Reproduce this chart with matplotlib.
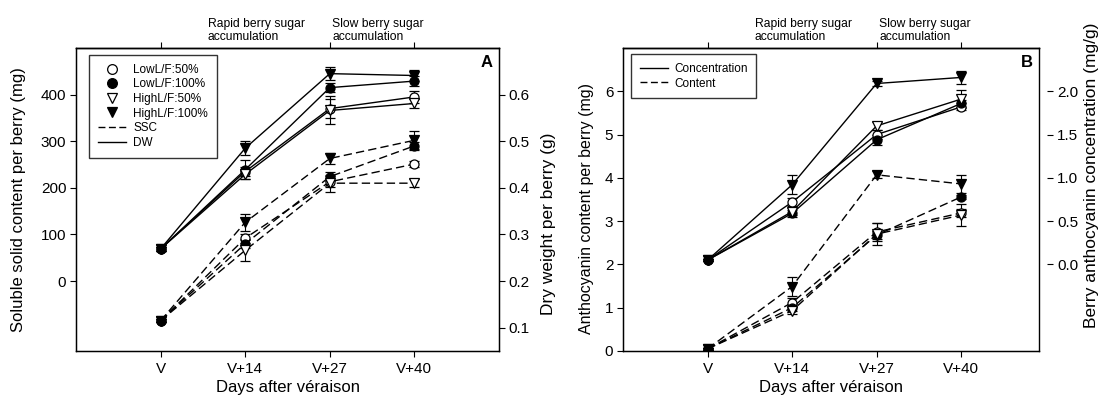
import matplotlib
matplotlib.use('Agg')
import matplotlib.pyplot as plt
from matplotlib.lines import Line2D

plt.rcParams['font.family'] = ['Liberation Sans', 'DejaVu Sans']

days = ['V', 'V+14', 'V+27', 'V+40']
treatments = ['LowL/F:50%', 'LowL/F:100%', 'HighL/F:50%', 'HighL/F:100%']

# ---- Panel A: soluble solid content (mg, dashed) and dry weight (g, solid)
ssc_low50 = [-85, 92, 213, 251]
ssc_low100 = [-85, 80, 224, 290]
ssc_high50 = [-85, 66, 210, 210]
ssc_high100 = [-85, 126, 263, 302]
ssc_err_low50 = [3, 10, 12, 6]
ssc_err_low100 = [3, 10, 10, 8]
ssc_err_high50 = [3, 22, 18, 8]
ssc_err_high100 = [3, 18, 12, 19]

dw_low50 = [0.269, 0.435, 0.570, 0.595]
dw_low100 = [0.269, 0.439, 0.615, 0.629]
dw_high50 = [0.269, 0.429, 0.566, 0.581]
dw_high100 = [0.269, 0.485, 0.645, 0.641]
dw_err_low50 = [0.004, 0.010, 0.020, 0.012]
dw_err_low100 = [0.004, 0.020, 0.010, 0.010]
dw_err_high50 = [0.004, 0.010, 0.030, 0.010]
dw_err_high100 = [0.004, 0.015, 0.014, 0.012]

# ---- Panel B: anthocyanin content (mg, dashed) and concentration (mg/g, solid)
cont_low50 = [0.05, 1.12, 2.75, 3.19]
cont_low100 = [0.05, 1.00, 2.68, 3.56]
cont_high50 = [0.05, 0.93, 2.70, 3.14]
cont_high100 = [0.05, 1.49, 4.07, 3.86]
cont_err_low50 = [0.02, 0.10, 0.20, 0.10]
cont_err_low100 = [0.02, 0.08, 0.10, 0.05]
cont_err_high50 = [0.02, 0.08, 0.25, 0.25]
cont_err_high100 = [0.02, 0.22, 0.08, 0.20]

conc_low50 = [0.05, 0.72, 1.50, 1.82]
conc_low100 = [0.05, 0.59, 1.44, 1.86]
conc_high50 = [0.05, 0.61, 1.60, 1.91]
conc_high100 = [0.05, 0.92, 2.09, 2.16]
conc_err_low50 = [0.01, 0.05, 0.05, 0.04]
conc_err_low100 = [0.01, 0.04, 0.06, 0.04]
conc_err_high50 = [0.01, 0.04, 0.05, 0.10]
conc_err_high100 = [0.01, 0.11, 0.03, 0.08]

phase_labels = ['Rapid berry sugar\naccumulation', 'Slow berry sugar\naccumulation']

markers = {'LowL/F:50%': ('o', 'white'), 'LowL/F:100%': ('o', 'black'),
           'HighL/F:50%': ('v', 'white'), 'HighL/F:100%': ('v', 'black')}

x = list(range(len(days)))
LW = 1.0
MS = 6.5
TICK_FS = 11
LABEL_FS = 12


def plain(ax, y, err, name, ls):
    m, fc = markers[name]
    kw = dict(color='black', lw=LW, marker=m, mfc=fc, mec='black', mew=0.9, ms=MS,
              capsize=3.5, elinewidth=0.8, capthick=0.8, zorder=3)
    eb = ax.errorbar(x, y, yerr=err, ls=ls, **kw)
    if ls == '--':
        eb.lines[0].set_dashes((6, 3))


fig = plt.figure(figsize=(10.99, 4.0), dpi=100)
axA = fig.add_axes([76 / 1099, 49 / 400, 423 / 1099, 303 / 400])
axB = fig.add_axes([623 / 1099, 49 / 400, 416 / 1099, 303 / 400])


def style_common(ax, xmax, letter):
    ax.set_xlim(-1, xmax)
    ax.set_xticks(x)
    ax.set_xticklabels(days, fontsize=TICK_FS)
    ax.tick_params(axis='both', direction='out', length=4, width=0.8, labelsize=TICK_FS, pad=3)
    ax.tick_params(axis='x', pad=4)
    for s in ax.spines.values():
        s.set_linewidth(1.0)
    ax.set_xlabel('Days after véraison', fontsize=LABEL_FS, labelpad=3)
    top = ax.secondary_xaxis('top')
    top.set_xticks([0, 2, 3])
    top.set_xticklabels(['', '', ''])
    top.tick_params(direction='out', length=4, width=0.8)
    top.spines['top'].set_linewidth(1.0)
    ax.text(0.56, 1.015, phase_labels[0], transform=ax.get_xaxis_transform(), fontsize=8.7,
            ha='left', va='bottom', linespacing=1.2)
    ax.text(2.03, 1.015, phase_labels[1], transform=ax.get_xaxis_transform(), fontsize=8.7,
            ha='left', va='bottom', linespacing=1.2)
    ax.text(0.985, 0.978, letter, transform=ax.transAxes, fontsize=12, fontweight='bold',
            ha='right', va='top')


# ---- Panel A
style_common(axA, 4.0, 'A')
axA.set_ylim(-150, 500)
axA.set_yticks([0, 100, 200, 300, 400])
axA.set_ylabel('Soluble solid content per berry (mg)', fontsize=LABEL_FS)
axA.yaxis.set_label_coords(-0.118, 0.5)
axA2 = axA.twinx()
axA2.set_ylim(0.05, 0.70)
axA2.set_yticks([0.1, 0.2, 0.3, 0.4, 0.5, 0.6])
axA2.set_yticklabels(['0.1', '0.2', '0.3', '0.4', '0.5', '0.6'])
axA2.tick_params(axis='y', direction='out', length=4, width=0.8, labelsize=TICK_FS, pad=3)
axA2.set_ylabel('Dry weight per berry (g)', fontsize=12.5)
axA2.yaxis.set_label_coords(1.10, 0.42)

for name, y, e in [('LowL/F:50%', ssc_low50, ssc_err_low50), ('LowL/F:100%', ssc_low100, ssc_err_low100),
                   ('HighL/F:50%', ssc_high50, ssc_err_high50), ('HighL/F:100%', ssc_high100, ssc_err_high100)]:
    plain(axA, y, e, name, '--')
for name, y, e in [('LowL/F:50%', dw_low50, dw_err_low50), ('LowL/F:100%', dw_low100, dw_err_low100),
                   ('HighL/F:50%', dw_high50, dw_err_high50), ('HighL/F:100%', dw_high100, dw_err_high100)]:
    plain(axA2, y, e, name, '-')

handlesA = [Line2D([], [], ls='none', marker=markers[t][0], mfc=markers[t][1], mec='black',
                   mew=0.9, ms=7) for t in treatments]
handlesA.append(Line2D([], [], color='black', lw=LW, ls='--', dashes=(5, 2.5)))
handlesA.append(Line2D([], [], color='black', lw=LW, ls='-'))
legA = axA2.legend(handlesA, treatments + ['SSC', 'DW'], loc='upper left',
                   bbox_to_anchor=(0.031, 0.977), borderaxespad=0, fontsize=8.5, frameon=True,
                   fancybox=False, edgecolor='black', handlelength=2.4, labelspacing=0.22,
                   borderpad=0.75, handletextpad=0.6)
legA.get_frame().set_linewidth(1.0)

# ---- Panel B
style_common(axB, 3.92, 'B')
axB.set_ylim(0, 7)
axB.set_yticks([0, 1, 2, 3, 4, 5, 6])
axB.set_ylabel('Anthocyanin content per berry (mg)', fontsize=11.5)
axB.yaxis.set_label_coords(-0.07, 0.47)
axB2 = axB.twinx()
axB2.set_ylim(-1, 2.5)
axB2.set_yticks([0.0, 0.5, 1.0, 1.5, 2.0])
axB2.set_yticklabels(['0.0', '0.5', '1.0', '1.5', '2.0'])
axB2.spines['right'].set_position(('outward', 6))
axB2.spines['right'].set_visible(False)
axB2.tick_params(axis='y', direction='out', length=4, width=0.8, labelsize=TICK_FS, pad=3)
axB2.set_ylabel('Berry anthocyanin concentration (mg/g)', fontsize=12.5)
axB2.yaxis.set_label_coords(1.108, 0.58)

for name, y, e in [('LowL/F:50%', cont_low50, cont_err_low50), ('LowL/F:100%', cont_low100, cont_err_low100),
                   ('HighL/F:50%', cont_high50, cont_err_high50), ('HighL/F:100%', cont_high100, cont_err_high100)]:
    plain(axB, y, e, name, '--')
for name, y, e in [('LowL/F:50%', conc_low50, conc_err_low50), ('LowL/F:100%', conc_low100, conc_err_low100),
                   ('HighL/F:50%', conc_high50, conc_err_high50), ('HighL/F:100%', conc_high100, conc_err_high100)]:
    plain(axB2, y, e, name, '-')

handlesB = [Line2D([], [], color='black', lw=LW, ls='-'),
            Line2D([], [], color='black', lw=LW, ls='--', dashes=(5, 2.5))]
legB = axB2.legend(handlesB, ['Concentration', 'Content'], loc='upper left',
                   bbox_to_anchor=(0.019, 0.98), borderaxespad=0, fontsize=8.5, frameon=True,
                   fancybox=False, edgecolor='black', handlelength=2.4, labelspacing=0.22,
                   borderpad=0.75, handletextpad=0.5)
legB.get_frame().set_linewidth(1.0)

fig.savefig('out.png', dpi=100)
